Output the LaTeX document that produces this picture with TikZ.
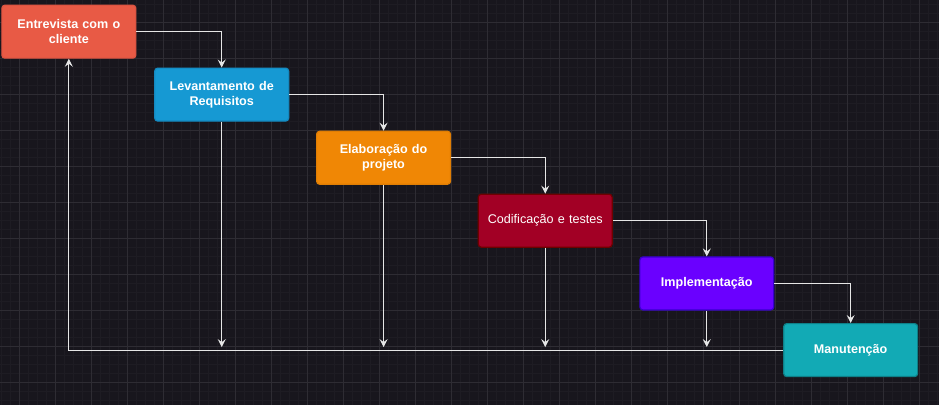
\documentclass[tikz,border=0pt]{standalone}
\usepackage{fontspec}
\setmainfont{Liberation Sans}
\usetikzlibrary{arrows.meta}
\definecolor{bg}{HTML}{18161D}
\definecolor{gminor}{HTML}{1E1C23}
\definecolor{gmajor}{HTML}{2E2C33}
\definecolor{edgec}{HTML}{E6E6E6}
\definecolor{redf}{HTML}{E85A45}
\definecolor{redd}{HTML}{DD5441}
\definecolor{bluef}{HTML}{1699D3}
\definecolor{blued}{HTML}{1489C0}
\definecolor{orangef}{HTML}{F08705}
\definecolor{oranged}{HTML}{E07E04}
\definecolor{crimf}{HTML}{A20025}
\definecolor{crimd}{HTML}{6F0000}
\definecolor{violf}{HTML}{6A00FF}
\definecolor{viold}{HTML}{3700CC}
\definecolor{tealf}{HTML}{12AAB5}
\definecolor{teald}{HTML}{0E8088}
\begin{document}
\begin{tikzpicture}[x=1pt,y=-1pt,
  box/.style={draw, line width=1.2pt, rounded corners=3pt, minimum width=134pt, minimum height=53pt,
    text=white, align=center, inner sep=0pt, text width=128pt,
    font=\fontsize{12.6}{14.5}\selectfont\bfseries},
  plainbox/.style={box, font=\fontsize{12.6}{14.5}\selectfont},
  edge/.style={draw=edgec, line width=1pt, -{Stealth[length=8pt,width=8pt,inset=3pt]}},
  gridminor/.style={draw=gminor, line width=0.6pt},
  gridmajor/.style={draw=gmajor, line width=0.8pt}]
\fill[bg] (0,0) rectangle (939,405);
\foreach \x in {1.3,10.3,...,939} \draw[gridminor] (\x,0) -- (\x,405);
\foreach \y in {4,13,...,405} \draw[gridminor] (0,\y) -- (939,\y);
\foreach \x in {19.3,55.3,...,939} \draw[gridmajor] (\x,0) -- (\x,405);
\foreach \y in {22,58,...,405} \draw[gridmajor] (0,\y) -- (939,\y);

\node[box, fill=redf, draw=redd] (e) at (68.5,31.3) {Entrevista com o\\cliente};
\node[box, fill=bluef, draw=blued] (l) at (221.5,94.3) {Levantamento de\\Requisitos};
\node[box, fill=orangef, draw=oranged] (p) at (383.5,157.5) {Elaboração do\\projeto};
\node[plainbox, fill=crimf, draw=crimd] (c) at (545.3,220.5) {Codificação e testes};
\node[box, fill=violf, draw=viold] (i) at (707,283.3) {Implementação};
\node[box, fill=tealf, draw=teald] (m) at (851,350) {Manutenção};

\coordinate (bl) at (0,347);

\draw[edge] (e.east) -| (l.north);
\draw[edge] (l.east) -| (p.north);
\draw[edge] (p.east) -| (c.north);
\draw[edge] (c.east) -| (i.north);
\draw[edge] (i.east) -| (m.north);

\draw[edge] (l.south) -- (l.south |- bl);
\draw[edge] (p.south) -- (p.south |- bl);
\draw[edge] (c.south) -- (c.south |- bl);
\draw[edge] (i.south) -- (i.south |- bl);

\draw[edge] (m.west) -| (e.south);
\end{tikzpicture}
\end{document}
